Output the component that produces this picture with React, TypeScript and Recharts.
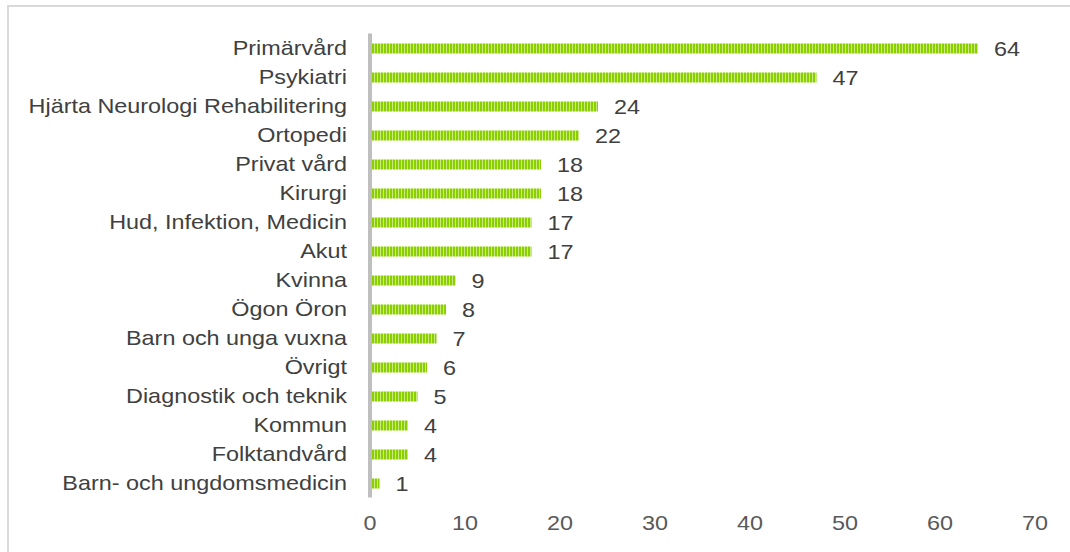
import React from 'react';
import { BarChart, Bar, XAxis, YAxis, LabelList } from 'recharts';

const categories = [
  'Primärvård',
  'Psykiatri',
  'Hjärta Neurologi Rehabilitering',
  'Ortopedi',
  'Privat vård',
  'Kirurgi',
  'Hud, Infektion, Medicin',
  'Akut',
  'Kvinna',
  'Ögon Öron',
  'Barn och unga vuxna',
  'Övrigt',
  'Diagnostik och teknik',
  'Kommun',
  'Folktandvård',
  'Barn- och ungdomsmedicin',
];
const values = [64, 47, 24, 22, 18, 18, 17, 17, 9, 8, 7, 6, 5, 4, 4, 1];
const xTicks = [0, 10, 20, 30, 40, 50, 60, 70];

const data = categories.map((name, i) => ({ name, value: values[i] }));

const FONT = '"Liberation Sans", Arial, sans-serif';
const SX = 1.17;

const YTick = (props: any) => {
  const { x, y, payload } = props;
  return (
    <text
      transform={`translate(${x},${y}) scale(${SX},1)`}
      x={0}
      y={0}
      dy="0.355em"
      textAnchor="end"
      fontSize={20}
      fill="#404040"
      fontFamily={FONT}
    >
      {payload.value}
    </text>
  );
};

const XTick = (props: any) => {
  const { x, y, payload } = props;
  return (
    <text
      transform={`translate(${x},${y}) scale(${SX},1)`}
      x={0}
      y={0}
      dy="0.71em"
      textAnchor="middle"
      fontSize={20}
      fill="#595959"
      fontFamily={FONT}
    >
      {payload.value}
    </text>
  );
};

const ValueLabel = (props: any) => {
  const { x, y, width, height, value } = props;
  const tx = x + width + 16;
  const ty = y + height / 2;
  return (
    <text
      transform={`translate(${tx},${ty}) scale(${SX},1)`}
      x={0}
      y={0}
      dy="0.355em"
      textAnchor="start"
      fontSize={20}
      fill="#404040"
      fontFamily={FONT}
    >
      {value}
    </text>
  );
};

export default function App() {
  return (
    <div style={{ position: 'absolute', left: 0, top: 0, width: 1070, height: 552, background: '#fff', fontFamily: FONT }}>
      <div style={{ position: 'absolute', left: 7, top: 5, width: 1063, height: 547, borderTop: '2px solid #d9d9d9', borderLeft: '2px solid #d9d9d9', boxSizing: 'border-box' }} />
      <div style={{ position: 'absolute', left: 0, top: 0 }}>
        <BarChart
          width={1070}
          height={552}
          data={data}
          layout="vertical"
          margin={{ top: 33.5, right: 35, bottom: 24.5, left: 0 }}
          barSize={10}
        >
          <defs>
            <pattern id="stripes" patternUnits="userSpaceOnUse" width="3" height="10">
              <rect x="0" y="0" width="3" height="10" fill="#c9ea7f" />
              <rect x="0" y="0" width="2" height="10" fill="#8ccf00" />
            </pattern>
          </defs>
          <XAxis
            type="number"
            domain={[0, 70]}
            ticks={xTicks}
            axisLine={false}
            tickLine={false}
            tickMargin={12}
            height={30}
            tick={<XTick />}
          />
          <YAxis
            type="category"
            dataKey="name"
            width={370}
            axisLine={{ stroke: '#bfbfbf', strokeWidth: 4 }}
            tickLine={false}
            tickMargin={17}
            interval={0}
            tick={<YTick />}
          />
          <Bar dataKey="value" fill="url(#stripes)" isAnimationActive={false}>
            <LabelList dataKey="value" content={<ValueLabel />} />
          </Bar>
        </BarChart>
      </div>
    </div>
  );
}
